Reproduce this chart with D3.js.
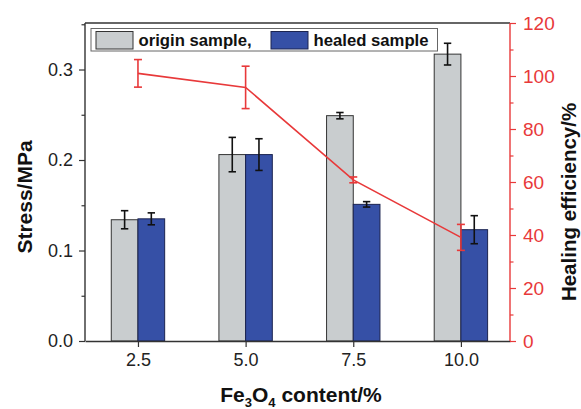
<!DOCTYPE html>
<html><head><meta charset="utf-8">
<script src="https://cdn.jsdelivr.net/npm/d3@7"></script>
<style>
body{margin:0;background:#fff;}
svg{display:block;font-family:"Liberation Sans",Arial,sans-serif;}
</style></head>
<body><svg id="c" width="581" height="409"></svg>
<script>
const categories = [2.5, 5.0, 7.5, 10.0];
const tickLabels = ["2.5", "5.0", "7.5", "10.0"];
const originStress = [0.134, 0.206, 0.249, 0.317];
const originErr = [0.010, 0.019, 0.0035, 0.012];
const healedStress = [0.135, 0.206, 0.151, 0.123];
const healedErr = [0.0066, 0.0175, 0.003, 0.0155];
const efficiency = [101.0, 95.7, 60.8, 39.1];
const efficiencyErr = [5.2, 8.0, 1.1, 4.9];
const leftTicks = [0.0, 0.1, 0.2, 0.3];
const rightTicks = [0, 20, 40, 60, 80, 100, 120];

const svg = d3.select("#c");
const L = 85, R = 510, T = 23, B = 341;
const x = d3.scaleLinear().domain([1.27, 11.14]).range([L, R]);
const y = d3.scaleLinear().domain([0, 0.3514]).range([B, T]);
const y2 = d3.scaleLinear().domain([0, 120]).range([B, T]);
const bw = x(2.5) - x(2.5 - 0.62);
const red = "#e8393a", gray = "#c9cdcf", blue = "#3650a6";

// bars
const g = svg.append("g");
categories.forEach((c, i) => {
  g.append("rect").attr("x", x(c) - bw).attr("y", y(originStress[i]))
    .attr("width", bw).attr("height", y(0) - y(originStress[i]))
    .attr("fill", gray).attr("stroke", "#333").attr("stroke-width", 1);
  g.append("rect").attr("x", x(c)).attr("y", y(healedStress[i]))
    .attr("width", bw).attr("height", y(0) - y(healedStress[i]))
    .attr("fill", blue).attr("stroke", "#1c2450").attr("stroke-width", 1);
});
function errBar(cx, yv, e, sc, col, cap) {
  const a = sc(yv + e), b = sc(yv - e);
  g.append("line").attr("x1", cx).attr("x2", cx).attr("y1", a).attr("y2", b)
    .attr("stroke", col).attr("stroke-width", 1.6);
  [a, b].forEach(yy => g.append("line").attr("x1", cx - cap).attr("x2", cx + cap)
    .attr("y1", yy).attr("y2", yy).attr("stroke", col).attr("stroke-width", 1.6));
}
categories.forEach((c, i) => {
  errBar(x(c) - bw / 2, originStress[i], originErr[i], y, "#111", 3.7);
  errBar(x(c) + bw / 2, healedStress[i], healedErr[i], y, "#111", 3.7);
});

// line
const line = d3.line().x((d, i) => x(categories[i])).y(d => y2(d));
g.append("path").datum(efficiency).attr("d", line).attr("fill", "none")
  .attr("stroke", red).attr("stroke-width", 1.6);
categories.forEach((c, i) => errBar(x(c), efficiency[i], efficiencyErr[i], y2, red, 4));

// frame top
svg.append("line").attr("x1", L).attr("x2", R).attr("y1", T).attr("y2", T)
  .attr("stroke", "#333").attr("stroke-width", 1.4);

// axes
const tf = "'Liberation Sans',Arial,sans-serif";
const ax = svg.append("g").attr("transform", `translate(${L},0)`)
  .call(d3.axisLeft(y).tickValues(leftTicks).tickFormat(d3.format(".1f")).tickSize(6).tickPadding(6));
const axm = svg.append("g").attr("transform", `translate(${L},0)`)
  .call(d3.axisLeft(y).tickValues([0.05, 0.15, 0.25, 0.35].filter(v => v <= 0.3514)).tickSize(3.5).tickFormat(""));
axm.select(".domain").remove();
const bx = svg.append("g").attr("transform", `translate(0,${B})`)
  .call(d3.axisBottom(x).tickValues(categories).tickFormat((d, i) => tickLabels[i]).tickSize(6).tickPadding(6).tickSizeOuter(0));
const rx = svg.append("g").attr("transform", `translate(${R},0)`)
  .call(d3.axisRight(y2).tickValues(rightTicks).tickSize(6).tickPadding(7));
const rxm = svg.append("g").attr("transform", `translate(${R},0)`)
  .call(d3.axisRight(y2).tickValues([10, 30, 50, 70, 90, 110]).tickSize(3.5).tickFormat(""));
rxm.select(".domain").remove();

[ax, bx].forEach(s => s.selectAll(".tick text").attr("font-size", "18px").attr("font-family", tf).attr("fill", "#222"));
[ax, axm, bx].forEach(s => s.selectAll(".tick line").attr("stroke", "#333").attr("stroke-width", 1.2));
ax.select(".domain").attr("stroke", "#333").attr("stroke-width", 1.4).attr("d", `M0,${T}V${B}`);
bx.select(".domain").attr("stroke", "#333").attr("stroke-width", 1.4);
rx.select(".domain").attr("stroke", red).attr("stroke-width", 1.4).attr("d", `M0,${T}V${B}`);
[rx, rxm].forEach(s => s.selectAll(".tick line").attr("stroke", red).attr("stroke-width", 1.2));
rx.selectAll(".tick text").attr("fill", red).attr("font-size", "19px").attr("font-family", tf);

// axis titles
svg.append("text").attr("transform", "translate(32,197) rotate(-90)")
  .attr("text-anchor", "middle").attr("font-weight", "bold").attr("font-size", "21px")
  .attr("fill", "#111").text("Stress/MPa");
svg.append("text").attr("transform", "translate(575.5,202) rotate(-90)")
  .attr("text-anchor", "middle").attr("font-weight", "bold").attr("font-size", "20.5px")
  .attr("fill", "#111").text("Healing efficiency/%");
const xt = svg.append("text").attr("x", 301).attr("y", 402).attr("text-anchor", "middle")
  .attr("font-weight", "bold").attr("font-size", "21px").attr("fill", "#111");
xt.append("tspan").text("Fe");
xt.append("tspan").attr("font-size", "13px").attr("dy", 5).text("3");
xt.append("tspan").attr("dy", -5).text("O");
xt.append("tspan").attr("font-size", "13px").attr("dy", 5).text("4");
xt.append("tspan").attr("dy", -5).text(" content/%");

// legend
const lg = svg.append("g");
lg.append("rect").attr("x", 91).attr("y", 28.5).attr("width", 346.5).attr("height", 22.5)
  .attr("fill", "#fff").attr("stroke", "#666").attr("stroke-width", 1);
lg.append("rect").attr("x", 96).attr("y", 31.5).attr("width", 37).attr("height", 17.5)
  .attr("fill", gray).attr("stroke", "#333");
lg.append("text").attr("x", 138.5).attr("y", 45.5).attr("font-weight", "bold").attr("font-size", "16.7px")
  .attr("fill", "#111").text("origin sample,");
lg.append("rect").attr("x", 271).attr("y", 31.5).attr("width", 37).attr("height", 17.5)
  .attr("fill", blue).attr("stroke", "#1c2450");
lg.append("text").attr("x", 313.5).attr("y", 45.5).attr("font-weight", "bold").attr("font-size", "16.7px")
  .attr("fill", "#111").text("healed sample");
</script></body></html>
